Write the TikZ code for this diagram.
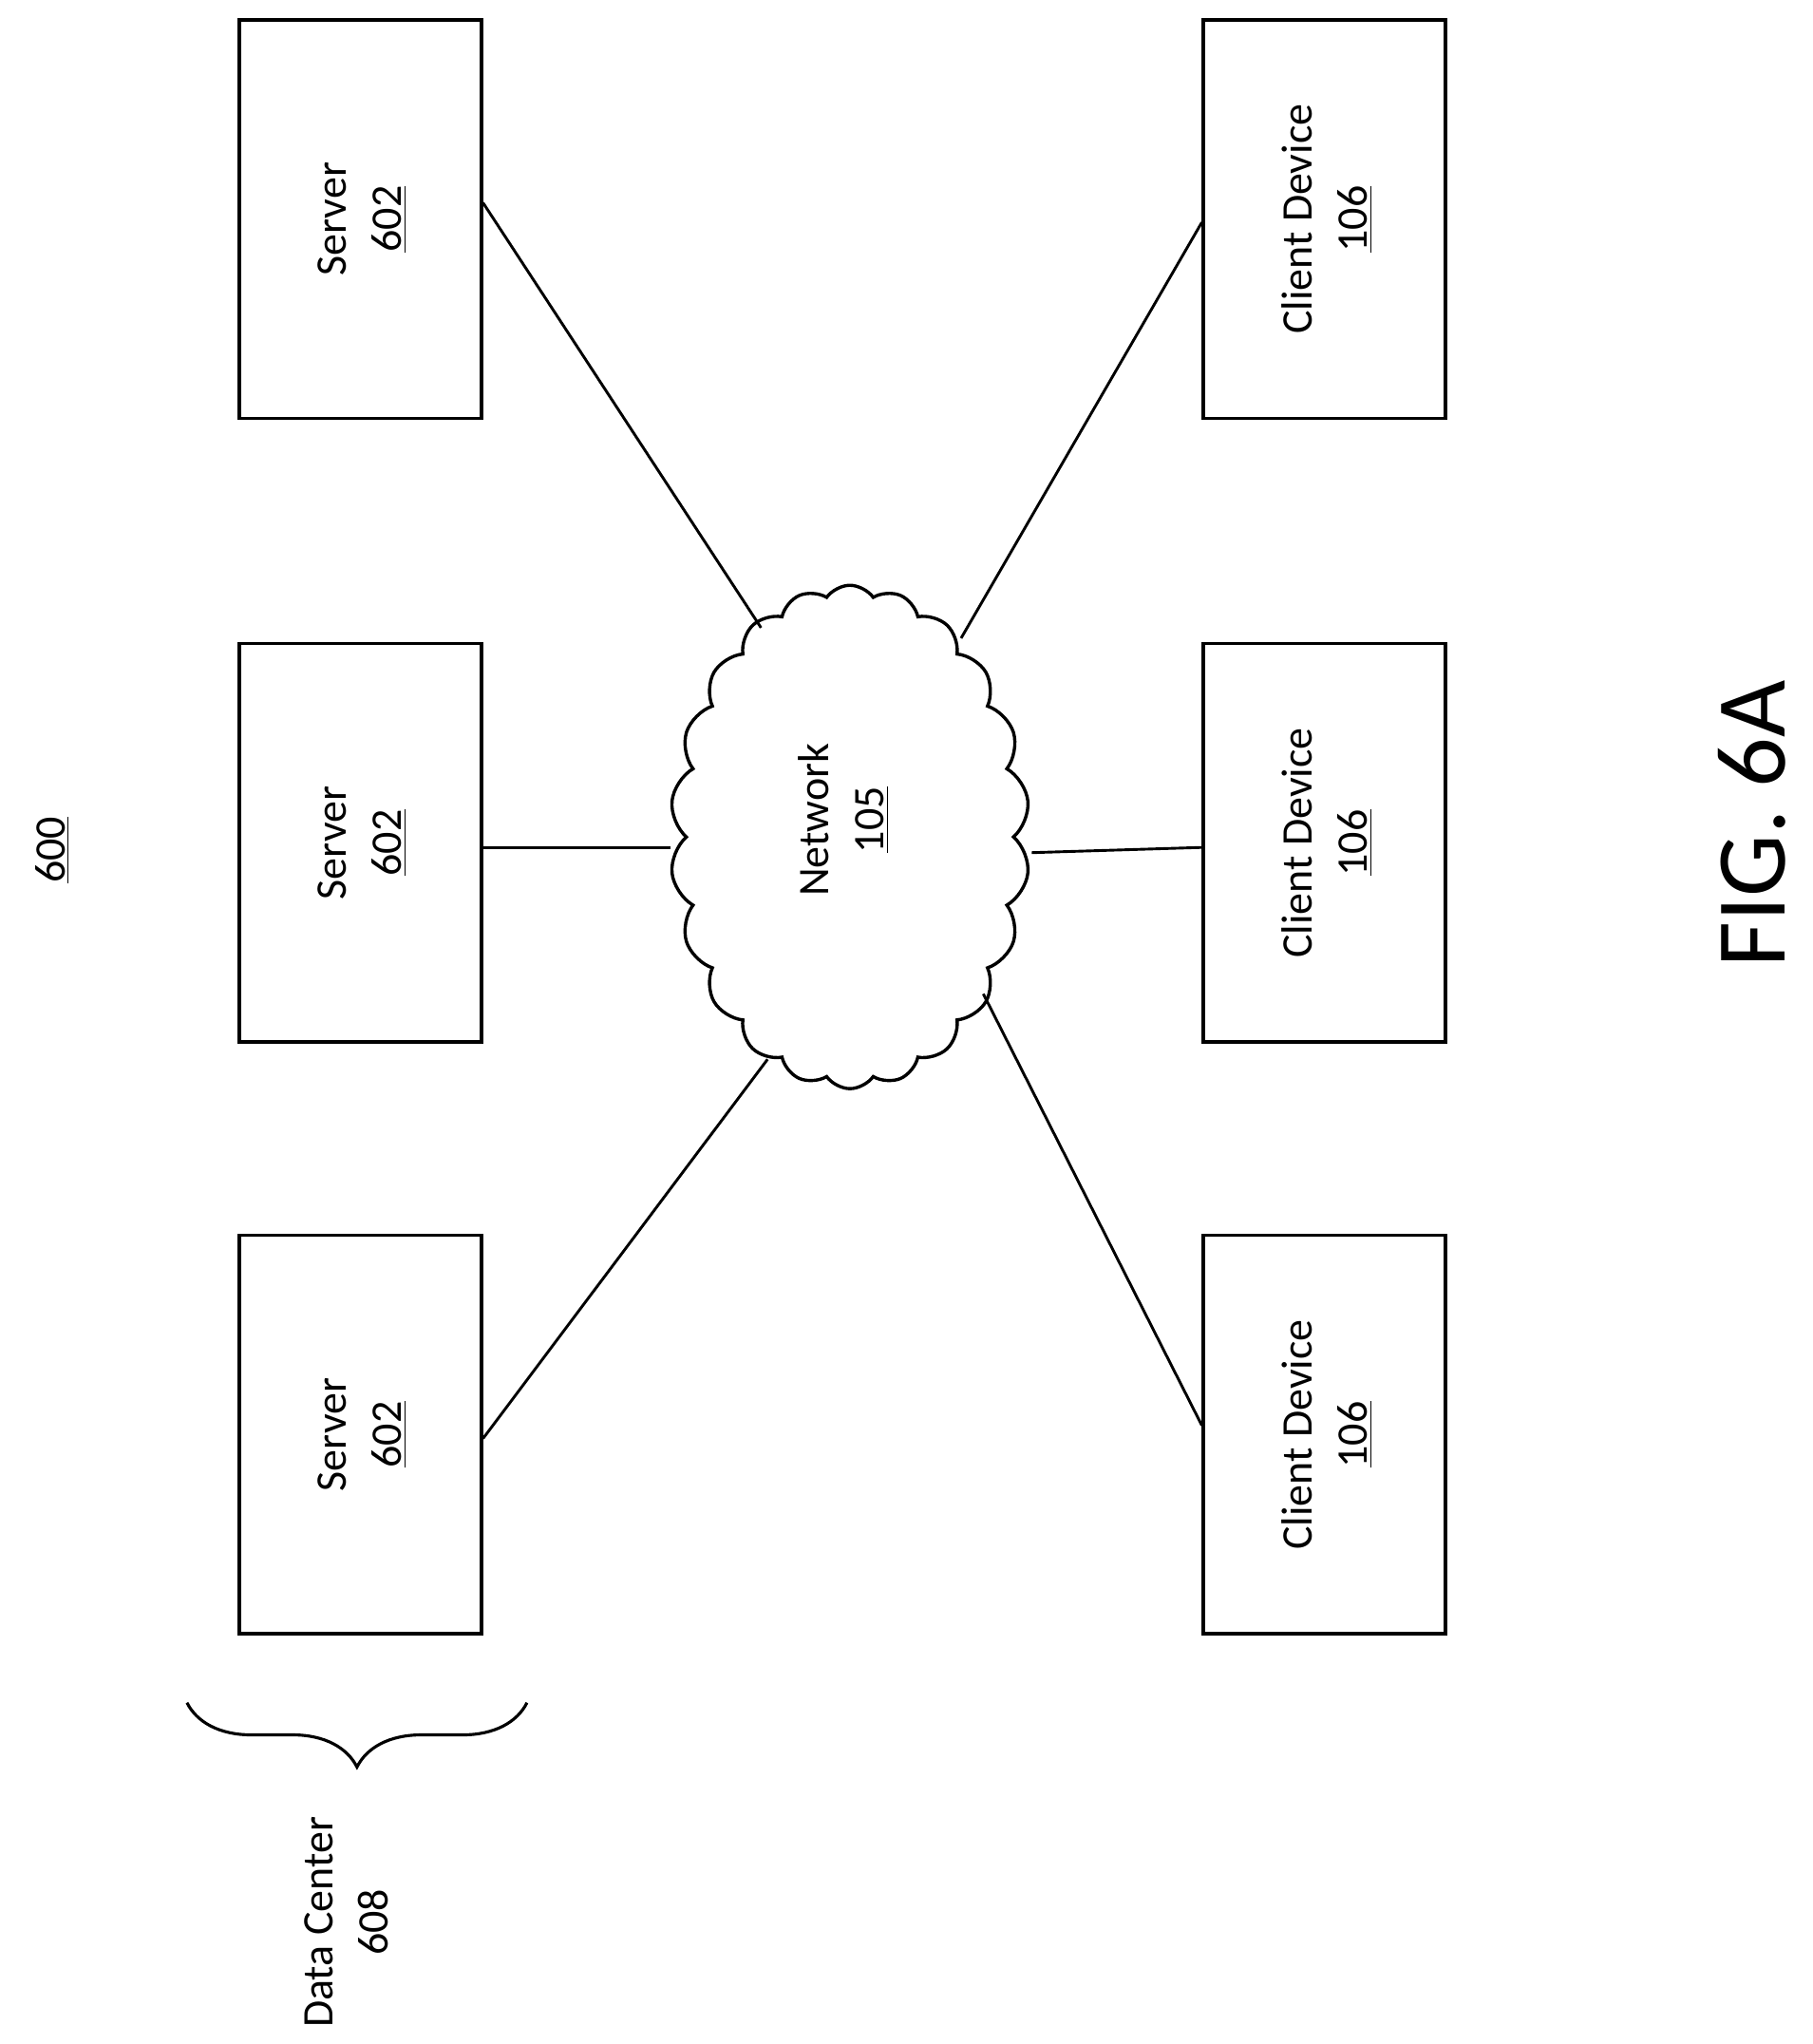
\documentclass[tikz,border=0pt]{standalone}
\usepackage{fontspec}
\setmainfont{Carlito}
\usetikzlibrary{shapes.symbols,decorations.pathreplacing}
\begin{document}
\begin{tikzpicture}[x=0.02cm,y=-0.02cm,
 box/.style={draw,line width=1.6pt,minimum width=3.7cm,minimum height=6.1cm,inner sep=0},
 lbl/.style={rotate=90,font=\fontsize{19}{24}\selectfont,align=center},
 ln/.style={line width=1.2pt}]
\useasboundingbox (0,0) rectangle (1386,1563);
\foreach \n/\x/\y in {s1/275.5/167.5,s2/275.5/644.5,s3/275.5/1097,c1/1013/167.5,c2/1013/644.5,c3/1013/1097}{
  \node[box] (\n) at (\x,\y) {};}
\foreach \n/\y in {s1/167.5,s2/644.5,s3/1097}{
  \node[lbl] at (277,\y) {Server\\\underline{602}};}
\foreach \n/\y in {c1/167.5,c2/644.5,c3/1097}{
  \node[lbl] at (1015,\y) {Client Device\\\underline{106}};}
\node[cloud,draw,line width=1.4pt,cloud puffs=22,cloud puff arc=110,aspect=0.72,minimum width=5.5cm,minimum height=7.7cm] (net) at (650,640) {};
\node[lbl] at (645,627) {Network\\\underline{105}};
\coordinate (n1) at (582,480); \coordinate (n2) at (513,648); \coordinate (n3) at (587,810);
\coordinate (n4) at (735,488); \coordinate (n5) at (789,652); \coordinate (n6) at (752,760);
\draw[ln] (s1.east |- 0,155) -- (n1);
\draw[ln] (s2.east |- 0,648) -- (n2);
\draw[ln] (s3.east |- 0,1100) -- (n3);
\draw[ln] (c1.west |- 0,170) -- (n4);
\draw[ln] (c2.west |- 0,648) -- (n5);
\draw[ln] (c3.west |- 0,1090) -- (n6);
\node[rotate=90,font=\fontsize{19}{24}\selectfont] (t600) at (40,650) {\underline{600}};
\node[rotate=90,font=\fontsize{43}{48}\selectfont] (fig) at (1340,630) {FIG. 6A};
\coordinate (b1) at (403,1302); \coordinate (b2) at (143,1302);
\draw[line width=1.3pt,decorate,decoration={brace,amplitude=28pt}] (b1) -- (b2);
\node[lbl,align=center] (dc) at (265,1470) {Data Center\\608};
\end{tikzpicture}
\end{document}
